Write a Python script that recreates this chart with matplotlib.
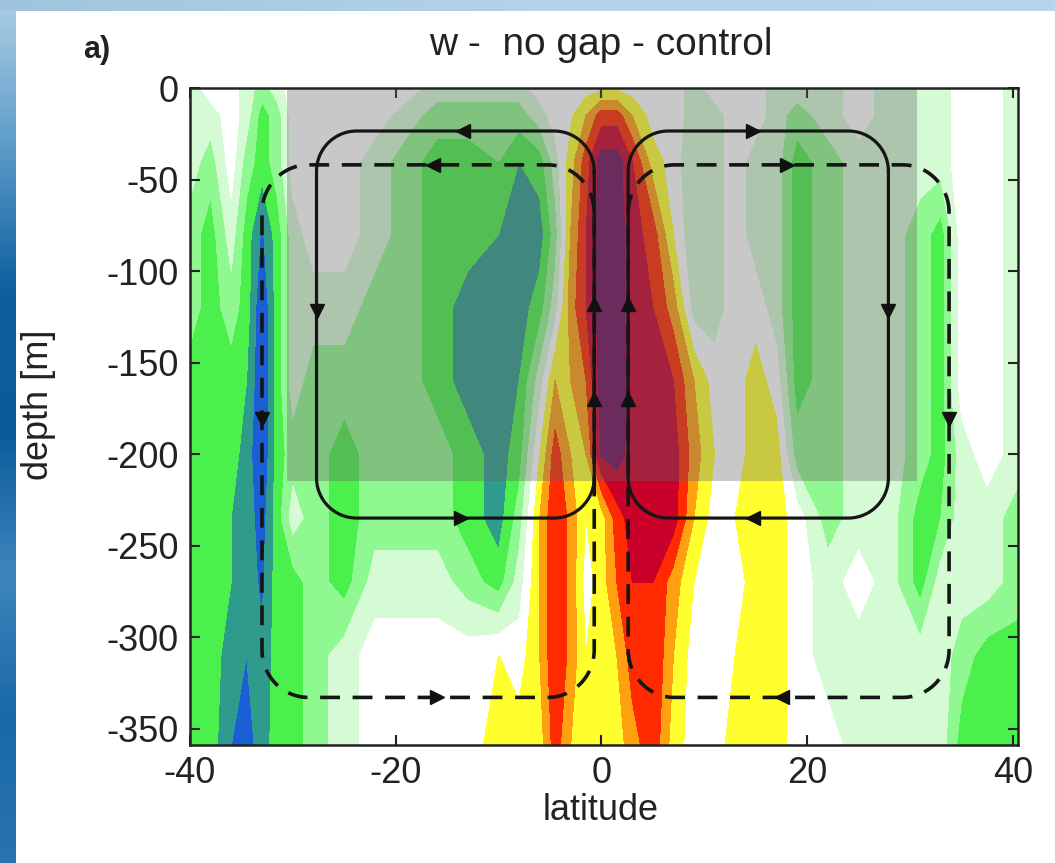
import numpy as np
import matplotlib
matplotlib.use("Agg")
import matplotlib.pyplot as plt
from matplotlib.colors import LinearSegmentedColormap
from matplotlib.patches import Rectangle

plt.rcParams['font.family'] = ['Liberation Sans', 'DejaVu Sans']
plt.rcParams['axes.unicode_minus'] = False

# grid of the vertical velocity field (band index)
lat = [-40, -38, -36, -34.5, -33, -31.5, -30, -28, -25, -22, -19, -16, -13, -10, -8, -6,
       -4.5, -3, -1.5, 0, 1.5, 3, 5, 7, 9, 11, 13, 15, 17, 19, 22, 25, 28, 31, 33, 35, 37.5, 40.5]
depth = [0, -15, -40, -80, -120, -160, -200, -235, -270, -310, -360]

w_0 = [-1, 0, 0, -1, -2, -1, 0, 0, 0, 0, 0, -1, -1, -1, -1, 0,
       0, 0, 0, 0.3, 0.3, 0, 0, 0, -1, 0, 0, 0, -1, -1, -1, 0, -1, -1, -1, 0, 0, -1]
w_15 = [-1, -1, 0, -1, -3, -2, 0, 0, 0, 0, -1, -2, -2, -2, -2, -1,
        0, 0.3, 1.5, 3, 3, 1.5, 0, 0, -1, -1, 0, 0, -1, -2, -1, 0, -1, -1, -1, 0, 0, -1]
w_40 = [-1, -2, 0, -2, -3, -2, 0, 0, 0, -1, -2, -3, -3, -2.5, -3.5, -3,
        -1, 1, 3, 5, 5, 3.5, 1, 0, -1.5, -1, 0, -1, -1, -3, -2, -1, -1, -1, -1, 0, 0, -1]
w_80 = [-2, -3, -1, -3, -4.7, -3, -1, 0, 0, -1, -2, -3, -3, -3.5, -4, -4,
        -2, 1.5, 3.5, 5, 5, 4, 3, 0.5, -1.5, -1, 0, -1, -1, -3, -2, -1, -1, -2, -3, 0, 0, -1]
w_120 = [-2, -3, -2, -3, -5.5, -3, -1, -1, -1, -2, -2, -3, -4, -4, -4, -3,
         -1, 2, 3.5, 5, 5, 4, 3.5, 2, -1, -1, 0, 0, -1, -3, -2, -1, -1, -2, -3, 0, 0, -1]
w_160 = [-3, -3, -3, -3.5, -5.5, -3, -1, -2, -2, -2, -2, -3, -4, -4, -3.5, -1,
         1.5, 1.5, 2.5, 5, 5, 4.2, 4, 3.5, 1.5, 0, 0, 1, 0, -3, -2, -1, -1, -2, -3, 0, 0, -1]
w_200 = [-3, -3, -3, -4, -5.5, -3, -2, -2, -3, -2, -2, -2, -3, -4, -3, 0.5,
         3, 1.5, 1.5, 4.6, 5, 4, 4, 4, 2, 0.5, 0, 1, 1, -2, -2, -1, -1, -2, -3, -1, 0, -1]
w_235 = [-3, -3, -3.5, -4, -5, -3, -1, -2, -3, -2, -2, -2, -3, -4, -2, 1.5,
         3.4, 2.2, 0.5, 1, 3, 4, 4, 4, 1.5, 0, 0.5, 1, 1, 0, -2, -1, -1, -3, -2.5, -1, -1, -2]
w_270 = [-3, -3, -3.5, -4, -4.7, -3, -3, -2, -3, -1, -1, -1, -2, -3, -1, 1.5,
         3.4, 2.2, 0, 1, 2.5, 3.5, 3.5, 2, 0.5, 0, 0, 1, 1, 0, -1, 0, -1, -3, -1, -1, -1, -2]
w_310 = [-3, -3, -4, -4.5, -4.3, -3, -3, -2, -1, 0, 0, 0, 0, 0.5, 0, 1.5,
         3.4, 2.2, 0.5, 1, 1.5, 3, 3.5, 1.5, 0, 0, 0.5, 1, 1, 0, -1, -1, -1, -1, -1, -2, -3, -3]
w_360 = [-3, -3, -4.5, -5, -4, -3, -3, -2, -1, 0, 0, 0, 0, 1, 1, 1,
         3, 1.5, 1, 1, 1, 2, 3.2, 1, 0, 0, 1, 1, 1, 0, 0, -1, -1, -1, -1, -3, -3, -3]
w = np.array([w_0, w_15, w_40, w_80, w_120, w_160, w_200, w_235, w_270, w_310, w_360])

levels = [-9, -4.5, -3.5, -2.5, -1.5, -0.5, 0.5, 1.5, 2.5, 3.5, 4.5, 9]
band_colors = ['#1a5fd6', '#2f9b8c', '#4cf04c', '#90f890', '#d4fbd4', '#ffffff',
               '#ffff30', '#ffa010', '#ff2a00', '#c8002a', '#700f5a']

# shaded upper-ocean box
box_lat = [-30.6, 30.7]
box_depth = [0, -215]

# circulation cells: (west, east, top, bottom)
solid_cells = [(-27.7, -0.7, -23.5, -235), (2.6, 27.9, -23.5, -235)]
dashed_cells = [(-33.0, -0.7, -42, -333), (2.6, 33.8, -42, -333)]
solid_arrows = [(-13.5, -23.5, '<'), (-27.7, -122, 'v'), (-13.7, -235, '>'), (-0.7, -118, '^'),
                (14.7, -23.5, '>'), (27.9, -122, 'v'), (14.7, -235, '<'), (2.6, -118, '^')]
dashed_arrows = [(-16.4, -42, '<'), (-33.0, -181, 'v'), (-16.0, -333, '>'), (-0.7, -170, '^'),
                 (18.0, -42, '>'), (33.8, -181, 'v'), (17.6, -333, '<'), (2.6, -170, '^')]


def cell_path(west, east, top, bottom, rx, ry, n=24):
    t = np.linspace(0, np.pi / 2, n)
    xs = np.concatenate([east - rx + rx * np.cos(t), west + rx - rx * np.sin(t),
                         west + rx - rx * np.cos(t), east - rx + rx * np.sin(t)])
    ys = np.concatenate([top - ry + ry * np.sin(t), top - ry + ry * np.cos(t),
                         bottom + ry - ry * np.sin(t), bottom + ry - ry * np.cos(t)])
    return np.append(xs, xs[0]), np.append(ys, ys[0])


fig = plt.figure(figsize=(10.55, 8.63), dpi=100)

# blue slide border (left and top)
bl = fig.add_axes([0, 0, 16 / 1055, 1])
bl.imshow(np.linspace(0, 1, 200).reshape(-1, 1), aspect='auto',
          cmap=LinearSegmentedColormap.from_list('b', ['#aacde3', '#5d9bc9', '#0d5f9e', '#0a5b99',
                                                       '#3e86bd', '#1868a7', '#2a74b0']))
bl.axis('off')
bt = fig.add_axes([0, 1 - 11 / 863, 1, 11 / 863])
bt.imshow(np.linspace(0, 1, 200).reshape(1, -1), aspect='auto',
          cmap=LinearSegmentedColormap.from_list('t', ['#9fc5de', '#b3d3e7', '#b8d6e9']))
bt.axis('off')

ax = fig.add_axes([190 / 1055, 1 - 745 / 863, 828 / 1055, 657 / 863])
ax.contourf(lat, depth, w, levels=levels, colors=band_colors, zorder=1)
ax.add_patch(Rectangle((box_lat[0], box_depth[1]), box_lat[1] - box_lat[0],
                       box_depth[0] - box_depth[1], facecolor='#626262', alpha=0.35,
                       edgecolor='none', zorder=2))

for c in solid_cells:
    x, y = cell_path(*c, rx=3.9, ry=22)
    ax.plot(x, y, color='#151515', lw=2.3, zorder=3)
for c in dashed_cells:
    x, y = cell_path(*c, rx=4.5, ry=26)
    ax.plot(x, y, color='#151515', lw=2.6, linestyle=(0, (5.5, 3.5)), zorder=3)
for x, y, m in solid_arrows + dashed_arrows:
    ax.plot(x, y, marker=m, color='#111111', markersize=10, zorder=4)

ax.set_xlim(-40, 40.5)
ax.set_ylim(-359, 0)
ax.set_xticks([-40, -20, 0, 20, 40])
ax.set_yticks([0, -50, -100, -150, -200, -250, -300, -350])
ax.tick_params(direction='in', length=7, width=1.5, top=True, right=True,
               labelsize=26, pad=8, colors='#222222')
for s in ax.spines.values():
    s.set_linewidth(1.8)
    s.set_color('#222222')

fig.text(601 / 1055, 1 - 810 / 863, 'latitude', ha='center', va='center', fontsize=26, color='#222222')
fig.text(38 / 1055, 1 - 405 / 863, 'depth [m]', ha='center', va='center', rotation=90,
         fontsize=26, color='#222222')
fig.text(601 / 1055, 1 - 45 / 863, 'w -  no gap - control', ha='center', va='center',
         fontsize=28, color='#222222')
fig.text(97 / 1055, 1 - 50 / 863, 'a)', ha='center', va='center', fontsize=22,
         fontweight='bold', color='#222222')

fig.savefig('out.png', dpi=100)
